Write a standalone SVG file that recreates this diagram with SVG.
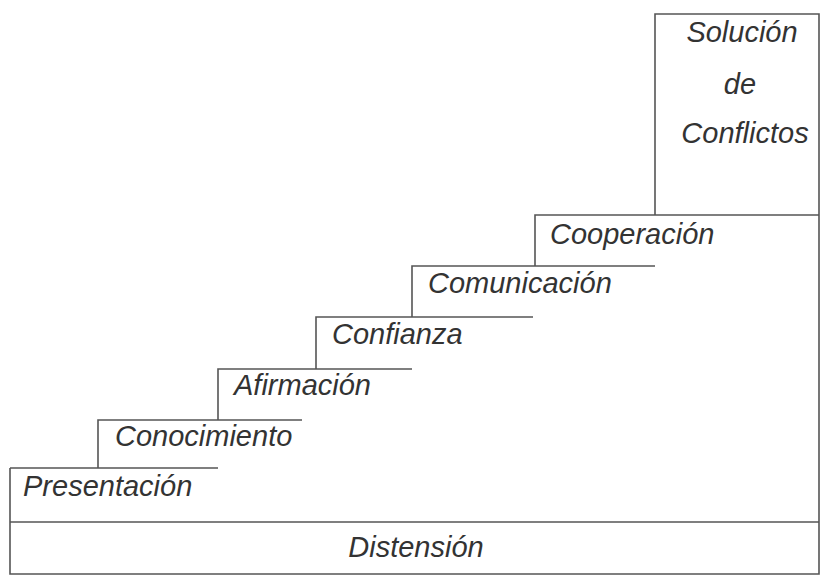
<svg xmlns="http://www.w3.org/2000/svg" width="822" height="577" viewBox="0 0 822 577">
<style>
.ln{stroke:#555;stroke-width:1.6;fill:none}
.t{font-family:"Liberation Sans",Arial,sans-serif;font-style:italic;font-size:29px;fill:#333}
</style>
<rect width="822" height="577" fill="#fff"/>
<g id="connectors">
<path class="ln" d="M10,468 V574 H819 V14 H655 V215"/>
<path class="ln" d="M10,522 H819"/>
</g>
<g id="distension"><text class="t" x="416" y="557" text-anchor="middle">Distensión</text></g>
<g id="presentacion"><path class="ln" d="M10,468 H218"/><text class="t" x="23" y="496">Presentación</text></g>
<g id="conocimiento"><path class="ln" d="M98,468 V420 H302"/><text class="t" x="115" y="446">Conocimiento</text></g>
<g id="afirmacion"><path class="ln" d="M218,420 V369 H412"/><text class="t" x="234" y="395">Afirmación</text></g>
<g id="confianza"><path class="ln" d="M316,369 V317 H533"/><text class="t" x="332" y="344">Confianza</text></g>
<g id="comunicacion"><path class="ln" d="M412,317 V266 H655"/><text class="t" x="428" y="293">Comunicación</text></g>
<g id="cooperacion"><path class="ln" d="M535,266 V215 H819"/><text class="t" x="550" y="244">Cooperación</text></g>
<g id="solucion"><text class="t" text-anchor="middle"><tspan x="742" y="42">Solución</tspan><tspan x="740" y="94">de</tspan><tspan x="745" y="143">Conflictos</tspan></text></g>
</svg>
